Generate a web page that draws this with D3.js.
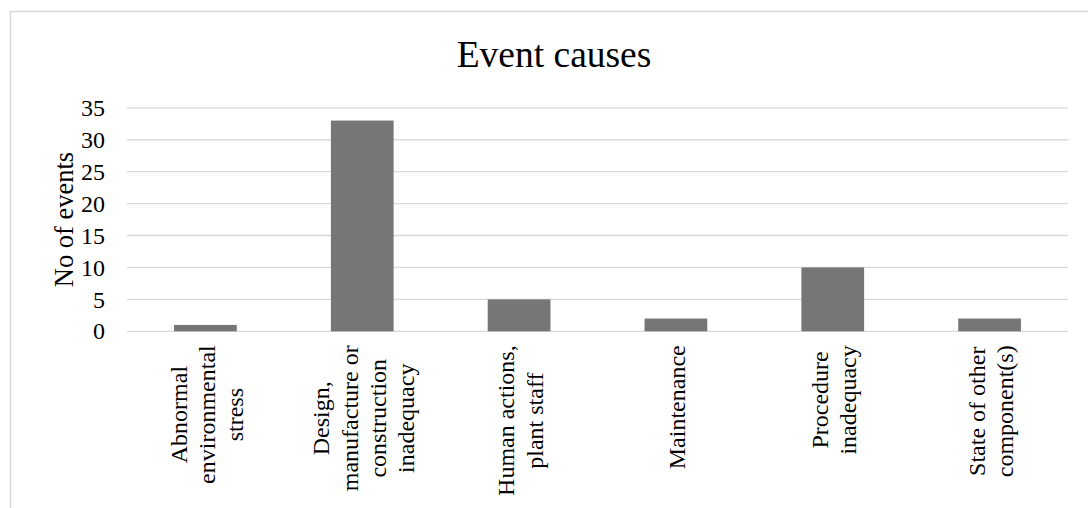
<!DOCTYPE html>
<html>
<head>
<meta charset="utf-8">
<script src="https://cdn.jsdelivr.net/npm/d3@7"></script>
<style>
  html, body { margin: 0; padding: 0; background: #fff; }
  svg { display: block; }
  text { font-family: "Liberation Serif", "Times New Roman", serif; fill: #000; }
</style>
</head>
<body>
<svg id="chart" width="1088" height="508"></svg>
<script>
// Event counts by cause
const categories = [
  "Abnormal environmental stress",
  "Design, manufacture or construction inadequacy",
  "Human actions, plant staff",
  "Maintenance",
  "Procedure inadequacy",
  "State of other component(s)"
];
// Wrapped label lines for each category
const categoryLines = [
  ["Abnormal", "environmental", "stress"],
  ["Design,", "manufacture or", "construction", "inadequacy"],
  ["Human actions,", "plant staff"],
  ["Maintenance"],
  ["Procedure", "inadequacy"],
  ["State of other", "component(s)"]
];
const values = [1, 33, 5, 2, 10, 2];
const yTicks = [0, 5, 10, 15, 20, 25, 30, 35];

const chartTitle = "Event causes";
const yTitle = "No of events";

const svg = d3.select("#chart");
const plot = { left: 127, right: 1068, top: 107.8, bottom: 331.3 };

// outer chart frame (runs past the right and bottom edges)
svg.append("rect")
  .attr("x", 10.5).attr("y", 11.5)
  .attr("width", 1200).attr("height", 600)
  .attr("fill", "none")
  .attr("stroke", "#d9d9d9")
  .attr("stroke-width", 1.5);

const x = d3.scaleBand()
  .domain(categories)
  .range([plot.left, plot.right])
  .paddingInner(0.6)
  .paddingOuter(0.3);

const y = d3.scaleLinear()
  .domain([0, 35])
  .range([plot.bottom, plot.top]);

// horizontal gridlines
svg.append("g")
  .selectAll("line")
  .data(yTicks)
  .join("line")
  .attr("x1", plot.left).attr("x2", plot.right)
  .attr("y1", d => y(d)).attr("y2", d => y(d))
  .attr("stroke", "#d9d9d9")
  .attr("stroke-width", 1.3);

// y axis tick labels
const yAxis = d3.axisLeft(y).tickValues(yTicks).tickSize(0).tickPadding(22);
const yG = svg.append("g")
  .attr("transform", `translate(${plot.left},0)`)
  .call(yAxis);
yG.select(".domain").remove();
yG.selectAll("text")
  .attr("font-family", "Liberation Serif, serif")
  .attr("font-size", 24)
  .attr("fill", "#000")
  .attr("dy", "0.32em");

// bars
svg.append("g")
  .selectAll("rect")
  .data(values)
  .join("rect")
  .attr("x", (d, i) => x(categories[i]))
  .attr("width", x.bandwidth())
  .attr("y", d => y(d))
  .attr("height", d => y(0) - y(d))
  .attr("fill", "#767676");

// rotated, wrapped category labels
const lineGap = 28.2;
const labelTop = plot.bottom + 14;
categoryLines.forEach((lines, i) => {
  const cx = x(categories[i]) + x.bandwidth() / 2;
  const g = svg.append("g");
  const t = g.append("text")
    .attr("font-size", 24)
    .attr("text-anchor", "middle");
  lines.forEach((ln, j) => {
    t.append("tspan")
      .attr("x", 0)
      .attr("y", (j - (lines.length - 1) / 2) * lineGap + 9.5)
      .text(ln);
  });
  const maxW = d3.max(t.selectAll("tspan").nodes(), n => n.getComputedTextLength());
  g.attr("transform", `translate(${cx},${labelTop + maxW / 2}) rotate(-90)`);
});

// y axis title
svg.append("text")
  .attr("transform", `translate(73,${(plot.top + plot.bottom) / 2}) rotate(-90)`)
  .attr("text-anchor", "middle")
  .attr("font-size", 26.5)
  .text(yTitle);

// chart title
svg.append("text")
  .attr("x", 554)
  .attr("y", 66.7)
  .attr("text-anchor", "middle")
  .attr("font-size", 37.5)
  .text(chartTitle);
</script>
</body>
</html>
